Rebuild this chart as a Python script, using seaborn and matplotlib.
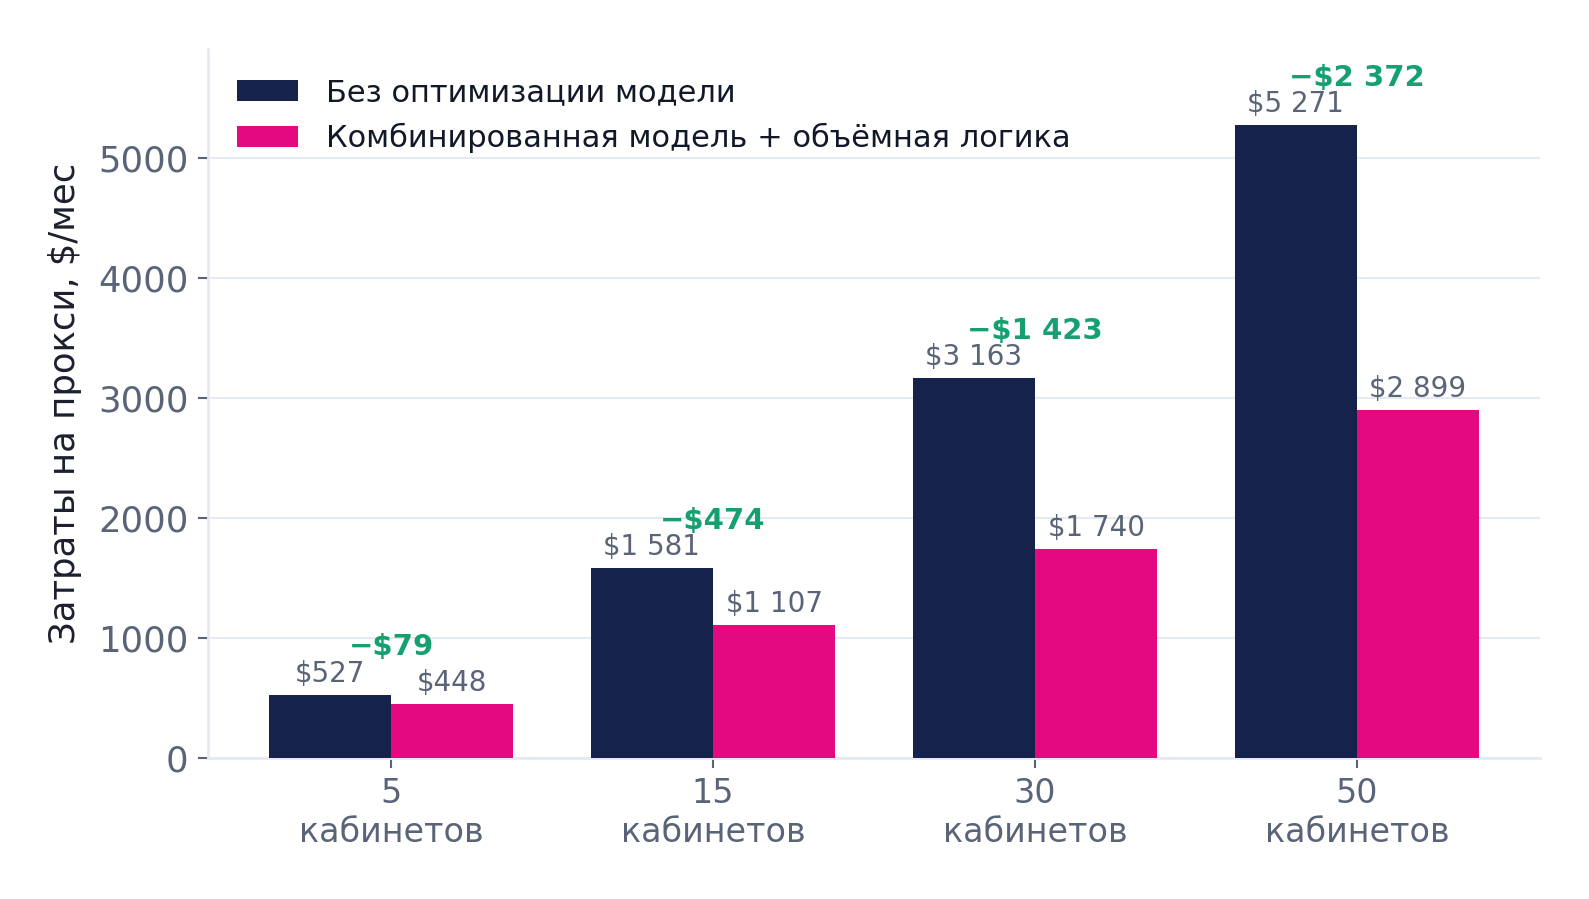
import pandas as pd
import matplotlib.pyplot as plt
import seaborn as sns

# Data
cabinets = ['5', '15', '30', '50']
series_names = ['Без оптимизации модели', 'Комбинированная модель + объёмная логика']
baseline = [527, 1581, 3163, 5271]
combined = [448, 1107, 1740, 2899]

NAVY = '#15224B'
PINK = '#E4097F'
GREEN = '#14A06F'
GRAY = '#5A6478'
GRID = '#E6E9F0'


def money(v):
    return '$' + f'{v:,}'.replace(',', ' ')


df = pd.DataFrame({
    'cab': cabinets * 2,
    'series': [series_names[0]] * 4 + [series_names[1]] * 4,
    'cost': baseline + combined,
})

sns.set_style('white')
plt.rcParams['font.family'] = ['DejaVu Sans']

fig, ax = plt.subplots(figsize=(15.89, 8.99), dpi=100)
fig.subplots_adjust(left=0.131, right=0.969, top=0.945, bottom=0.157)

sns.barplot(data=df, x='cab', y='cost', hue='series', order=cabinets,
            hue_order=series_names, palette=[NAVY, PINK], width=0.76,
            saturation=1, linewidth=0, ax=ax, zorder=3)

# value labels over bars
for cont in ax.containers:
    for bar in cont:
        h = bar.get_height()
        ax.annotate(money(int(round(h))), (bar.get_x() + bar.get_width() / 2, h),
                    xytext=(0, 5), textcoords='offset points',
                    ha='center', va='bottom', fontsize=20, color=GRAY)

# savings labels
for i, (a, b) in enumerate(zip(baseline, combined)):
    ax.annotate('\u2212' + money(a - b), (i, max(a, b)),
                xytext=(0, 24), textcoords='offset points',
                ha='center', va='bottom', fontsize=21, fontweight='bold',
                color=GREEN)

ax.set_xlim(-0.568, len(cabinets) - 1 + 0.568)
ax.set_ylim(0, max(baseline) * 1.12)
ax.set_yticks([0, 1000, 2000, 3000, 4000, 5000])
ax.set_xticks(range(len(cabinets)))
ax.set_xticklabels([f'{c}\nкабинетов' for c in cabinets])
ax.set_xlabel('')
ax.set_ylabel('Затраты на прокси, $/мес', fontsize=25.5, color='#1B1F2E', labelpad=12)

ax.yaxis.grid(True, color=GRID, linewidth=1.5, zorder=0)
ax.set_axisbelow(True)
ax.tick_params(axis='both', labelsize=24, labelcolor=GRAY, color=GRAY,
               length=7, width=1.5, left=True, bottom=True, pad=7)
ax.tick_params(axis='y', labelsize=25.5)
sns.despine(ax=ax)
for s in ['left', 'bottom']:
    ax.spines[s].set_color(GRID)
    ax.spines[s].set_linewidth(2)

ax.legend(loc='upper left', frameon=False, fontsize=22, handlelength=2.0,
          handleheight=0.7, handletextpad=0.9, labelspacing=0.5,
          borderaxespad=0.55, labelcolor='#111827')

fig.savefig('out.png', dpi=100)
